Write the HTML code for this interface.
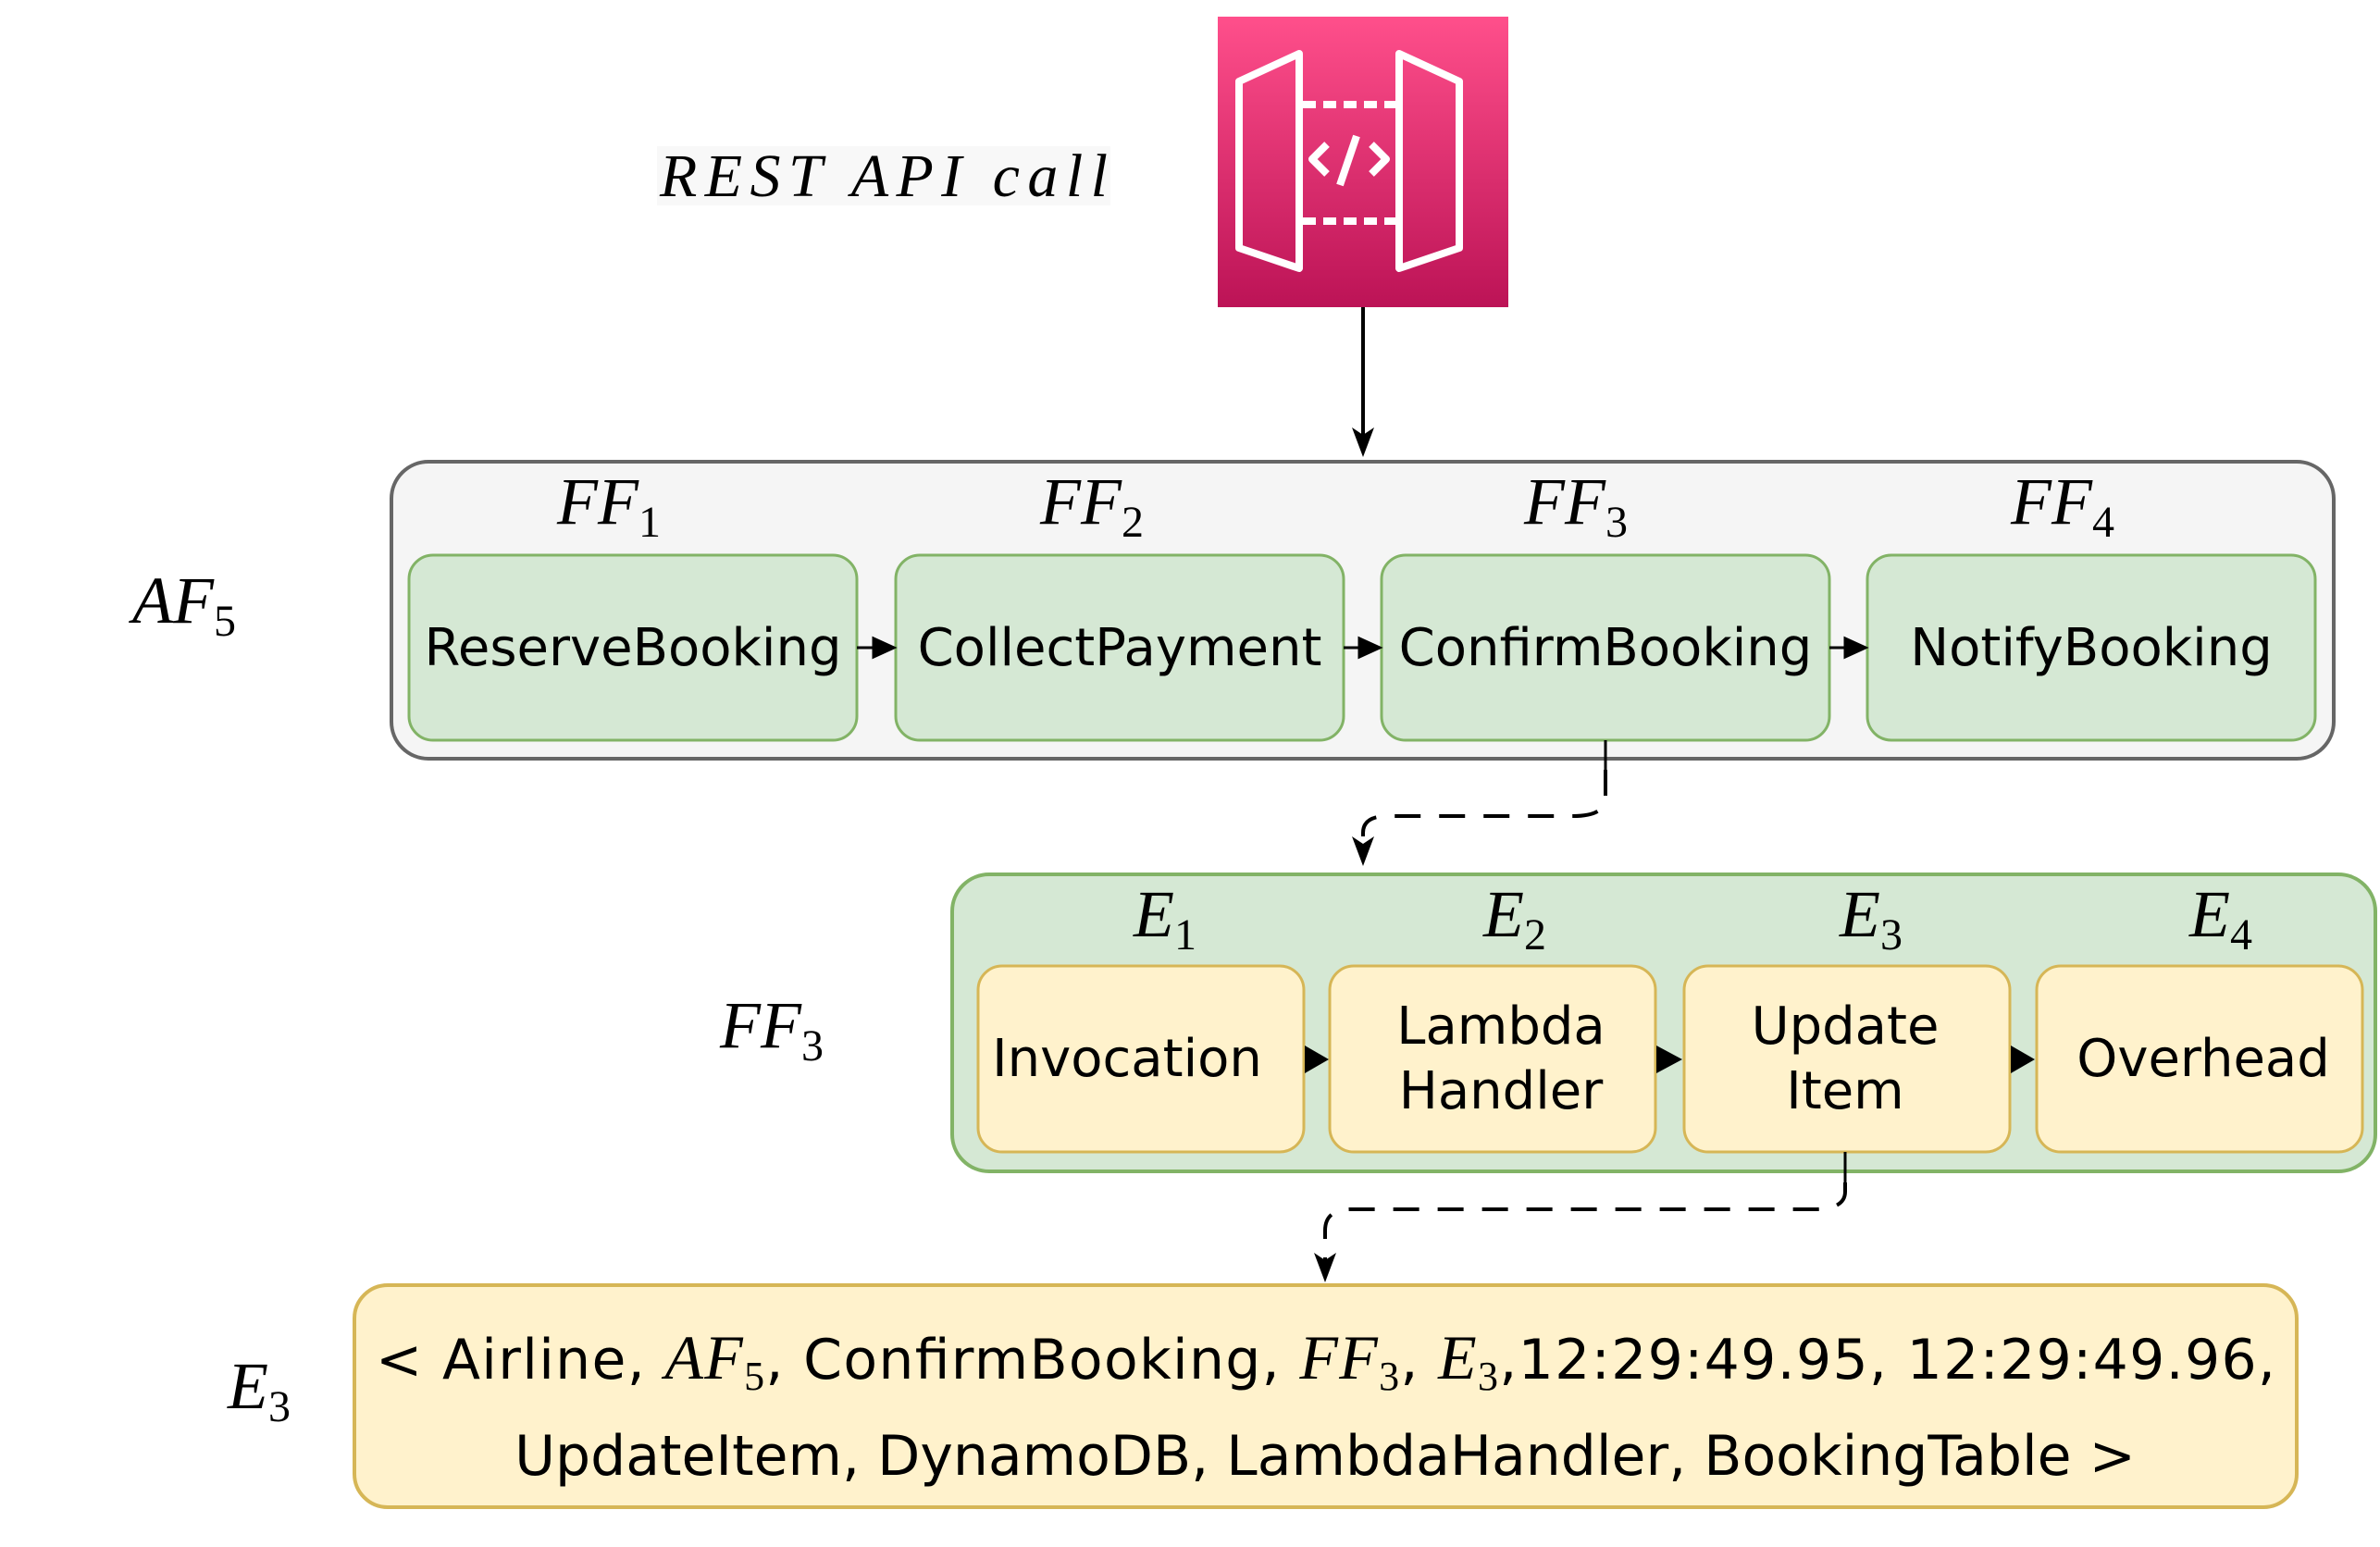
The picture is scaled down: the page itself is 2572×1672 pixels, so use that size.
<!DOCTYPE html>
<html><head><meta charset="utf-8"><style>
html,body{margin:0;padding:0;background:#fff;}
svg{display:block;}
.t{font-family:"DejaVu Sans","Liberation Sans",sans-serif;font-size:56px;fill:#000;}
.m{font-family:"Liberation Serif",serif;font-style:italic;font-size:72px;fill:#000;}
.s{font-size:48px;font-style:normal;}
</style></head><body>
<svg width="2572" height="1672" viewBox="0 0 2572 1672" xmlns="http://www.w3.org/2000/svg">
<defs>
<linearGradient id="g" x1="0" y1="0" x2="0" y2="1"><stop offset="0" stop-color="#ff4f8b"/><stop offset="1" stop-color="#bc1356"/></linearGradient>
</defs>
<rect x="710" y="158" width="490" height="64" fill="#f8f8f8"/>
<text x="713" y="212" class="m" style="font-size:66px" textLength="484" lengthAdjust="spacing">REST API call</text>
<rect x="1316" y="18" width="314" height="314" fill="url(#g)"/>
<g fill="none" stroke="#fff" stroke-width="8" stroke-linejoin="round">
<path d="M1404 58 L1339 88 L1339 268 L1404 290 Z"/>
<path d="M1512 58 L1577 88 L1577 268 L1512 290 Z"/>
<path d="M1408 113 H1508 M1408 239 H1508" stroke-dasharray="14 8"/>
<path d="M1434 156 L1418 172 L1434 188 M1482 156 L1498 172 L1482 188 M1466 147 L1448 200"/>
</g>
<line x1="1473" y1="332" x2="1473" y2="470" stroke="#000" stroke-width="4"/>
<path d="M1461 462 L1473 494 L1485 462 L1473 470 Z" fill="#000"/>
<rect x="423" y="499" width="2099" height="321" rx="40" fill="#f5f5f5" stroke="#666" stroke-width="4"/>
<g fill="#d5e8d4" stroke="#82b366" stroke-width="3">
<rect x="442" y="600" width="484" height="200" rx="26"/>
<rect x="968" y="600" width="484" height="200" rx="26"/>
<rect x="1493" y="600" width="484" height="200" rx="26"/>
<rect x="2018" y="600" width="484" height="200" rx="26"/>
</g>
<g class="t" text-anchor="middle">
<text x="684" y="719">ReserveBooking</text>
<text x="1210" y="719">CollectPayment</text>
<text x="1735" y="719">ConfirmBooking</text>
<text x="2260" y="719">NotifyBooking</text>
</g>
<g fill="#000" stroke="#000" stroke-width="3">
<line x1="926" y1="700" x2="950" y2="700"/><path d="M944 690 L966 700 L944 710 Z"/>
<line x1="1452" y1="700" x2="1475" y2="700"/><path d="M1469 690 L1491 700 L1469 710 Z"/>
<line x1="1977" y1="700" x2="2000" y2="700"/><path d="M1994 690 L2016 700 L1994 710 Z"/>
</g>
<g class="m" text-anchor="middle">
<text x="658" y="566">FF<tspan class="s" dy="14">1</tspan></text>
<text x="1180" y="566">FF<tspan class="s" dy="14">2</tspan></text>
<text x="1703" y="566">FF<tspan class="s" dy="14">3</tspan></text>
<text x="2229" y="566">FF<tspan class="s" dy="14">4</tspan></text>
<text x="199" y="673">AF<tspan class="s" dy="14">5</tspan></text>
<text x="834" y="1132">FF<tspan class="s" dy="14">3</tspan></text>
<text x="280" y="1522">E<tspan class="s" dy="14">3</tspan></text>
</g>
<line x1="1735" y1="800" x2="1735" y2="832" stroke="#000" stroke-width="3"/>
<path d="M1735 832 V862 Q1735 882 1700 882 H1500 Q1473 882 1473 900 V912" fill="none" stroke="#000" stroke-width="4" stroke-dasharray="28 20"/>
<path d="M1461 904 L1473 936 L1485 904 L1473 912 Z" fill="#000"/>
<rect x="1029" y="945" width="1538" height="321" rx="40" fill="#d5e8d4" stroke="#82b366" stroke-width="4"/>
<g fill="#fff2cc" stroke="#d6b656" stroke-width="3">
<rect x="1057" y="1044" width="352" height="201" rx="26"/>
<rect x="1437" y="1044" width="352" height="201" rx="26"/>
<rect x="1820" y="1044" width="352" height="201" rx="26"/>
<rect x="2201" y="1044" width="352" height="201" rx="26"/>
</g>
<g class="t" text-anchor="middle">
<text x="1218" y="1163">Invocation</text>
<text x="1622" y="1128">Lambda</text><text x="1622" y="1198">Handler</text>
<text x="1994" y="1128">Update</text><text x="1994" y="1198">Item</text>
<text x="2381" y="1163">Overhead</text>
</g>
<g fill="#000">
<path d="M1410 1130 L1436 1145 L1410 1160 Z"/>
<path d="M1790 1130 L1818 1145 L1790 1160 Z"/>
<path d="M2173 1130 L2199 1145 L2173 1160 Z"/>
</g>
<g class="m" text-anchor="middle">
<text x="1259" y="1012">E<tspan class="s" dy="14">1</tspan></text>
<text x="1637" y="1012">E<tspan class="s" dy="14">2</tspan></text>
<text x="2022" y="1012">E<tspan class="s" dy="14">3</tspan></text>
<text x="2400" y="1012">E<tspan class="s" dy="14">4</tspan></text>
</g>
<line x1="1994" y1="1245" x2="1994" y2="1278" stroke="#000" stroke-width="3"/>
<path d="M1994 1278 V1288 Q1994 1307 1960 1307 H1460 Q1432 1307 1432 1330 V1362" fill="none" stroke="#000" stroke-width="4" stroke-dasharray="28 20"/>
<path d="M1420 1354 L1432 1386 L1444 1354 L1432 1362 Z" fill="#000"/>
<rect x="383" y="1389" width="2099" height="240" rx="36" fill="#fff2cc" stroke="#d6b656" stroke-width="4"/>
<text x="406" y="1490" class="t" style="font-size:60px" textLength="2053" lengthAdjust="spacing">&lt; Airline, <tspan class="m" style="font-size:68px">AF<tspan class="s" style="font-size:44px" dy="12">5</tspan></tspan><tspan dy="-12">, ConfirmBooking, </tspan><tspan class="m" style="font-size:68px">FF<tspan class="s" style="font-size:44px" dy="12">3</tspan></tspan><tspan dy="-12">, </tspan><tspan class="m" style="font-size:68px">E<tspan class="s" style="font-size:44px" dy="12">3</tspan></tspan><tspan dy="-12">,12:29:49.95, 12:29:49.96,</tspan></text>
<text x="1432" y="1594" class="t" style="font-size:60px" text-anchor="middle">UpdateItem, DynamoDB, LambdaHandler, BookingTable &gt;</text>
</svg>
</body></html>
